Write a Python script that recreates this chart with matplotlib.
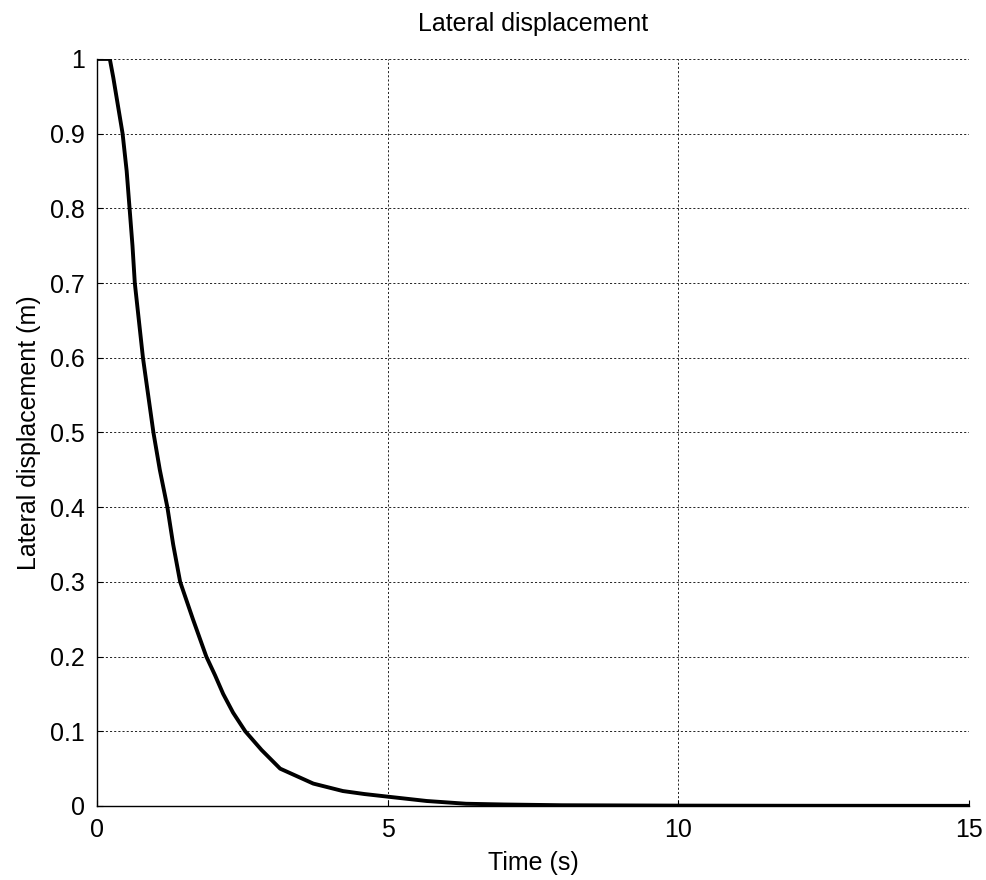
import numpy as np
import matplotlib.pyplot as plt

plt.rcParams['font.family'] = ['Liberation Sans', 'DejaVu Sans']

# values
time_s = [0, 0.22, 0.28, 0.44, 0.51, 0.56, 0.61, 0.65, 0.72, 0.79, 0.88,
          0.97, 1.08, 1.21, 1.31, 1.43, 1.65, 1.88, 2.03, 2.17, 2.34, 2.55,
          2.83, 3.15, 3.72, 4.23, 4.6, 5.0, 5.67, 6.35, 7.0, 8.0, 10.0,
          12.0, 15.0]
displacement = [1.0, 1.0, 0.975, 0.9, 0.85, 0.8, 0.75, 0.7, 0.65, 0.6, 0.55,
                0.5, 0.45, 0.4, 0.35, 0.3, 0.25, 0.2, 0.175, 0.15, 0.125, 0.1,
                0.075, 0.05, 0.03, 0.02, 0.016, 0.0125, 0.0067, 0.003, 0.002,
                0.001, 0.0005, 0.0003, 0.0002]

x_ticks = [0, 5, 10, 15]
y_ticks = [0, 0.1, 0.2, 0.3, 0.4, 0.5, 0.6, 0.7, 0.8, 0.9, 1]
y_tick_labels = ['0', '0.1', '0.2', '0.3', '0.4', '0.5', '0.6', '0.7', '0.8', '0.9', '1']

fig = plt.figure(figsize=(9.87, 8.8), dpi=100)
ax = fig.add_axes([0.0983, 0.0841, 0.8835, 0.8489])

ax.plot(time_s, displacement, color='black', linewidth=2.8)

ax.set_xlim(0, 15)
ax.set_ylim(0, 1)
ax.set_xticks(x_ticks)
ax.set_yticks(y_ticks)
ax.set_yticklabels(y_tick_labels)
ax.tick_params(direction='in', length=4, width=0.8, labelsize=18)
ax.tick_params(axis='x', pad=9)
ax.tick_params(axis='y', pad=9)

ax.grid(True, color='black', linestyle=(0, (2.5, 2.5)), linewidth=0.6)
ax.spines['top'].set_visible(False)
ax.spines['right'].set_visible(False)
ax.spines['left'].set_linewidth(1.0)
ax.spines['bottom'].set_linewidth(1.0)

ax.set_title('Lateral displacement', fontsize=18, pad=20)
ax.set_xlabel('Time (s)', fontsize=18, labelpad=6)
ax.set_ylabel('Lateral displacement (m)', fontsize=18, labelpad=6)

fig.savefig('out.png', dpi=100)
